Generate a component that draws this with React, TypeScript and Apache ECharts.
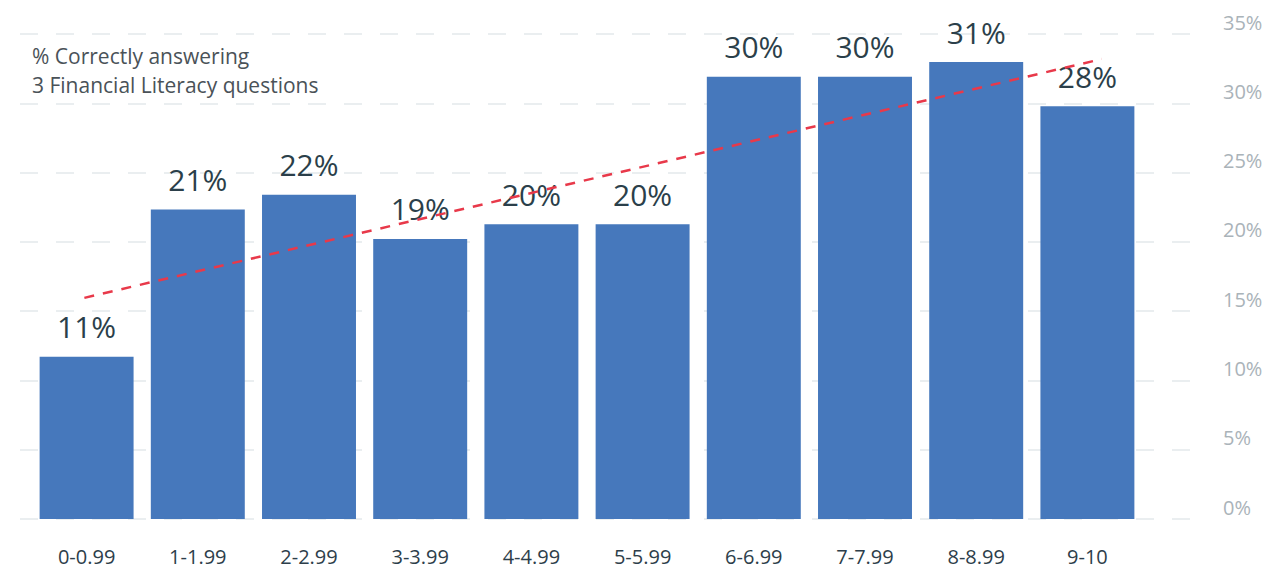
import React, { useEffect, useRef } from "react";
import * as echarts from "echarts";

const categories = ["0-0.99", "1-1.99", "2-2.99", "3-3.99", "4-4.99", "5-5.99", "6-6.99", "7-7.99", "8-8.99", "9-10"];
const correctPct = [11, 21, 22, 19, 20, 20, 30, 30, 31, 28];
const trendPoints: [number, number][] = [[-0.02, 15.0], [9.13, 31.2]];
const axisTicks = [0, 5, 10, 15, 20, 25, 30, 35];
const titleLines = ["% Correctly answering", "3 Financial Literacy questions"];

const FONT = "'Open Sans', sans-serif";

export default function App() {
  const ref = useRef<HTMLDivElement>(null);
  useEffect(() => {
    if (!ref.current) return;
    const chart = echarts.init(ref.current, null, { renderer: "svg" });
    const barMax = 32.9;
    chart.setOption({
      animation: false,
      backgroundColor: "#ffffff",
      textStyle: { fontFamily: FONT },
      grid: [
        { left: 31, right: 129, top: 34, bottom: 50 },
        { left: 20, right: 64, top: 34, bottom: 50 },
      ],
      xAxis: [
        {
          type: "category",
          gridIndex: 0,
          data: categories,
          axisLine: { show: false },
          axisTick: { show: false },
          axisLabel: { color: "#2d3e4a", fontSize: 20, margin: 27, fontFamily: FONT },
        },
        { type: "value", gridIndex: 0, min: -0.5, max: 9.5, show: false },
        { type: "value", gridIndex: 1, min: 0, max: 1, show: false },
      ],
      yAxis: [
        { type: "value", gridIndex: 0, min: 0, max: barMax, show: false, splitLine: { show: false } },
        {
          type: "value",
          gridIndex: 1,
          position: "right",
          min: axisTicks[0],
          max: axisTicks[axisTicks.length - 1],
          interval: 5,
          axisLine: { show: false },
          axisTick: { show: false },
          splitLine: { show: true, lineStyle: { color: "#e4e9eb", width: 1.5, type: [18, 18] } },
          axisLabel: {
            color: "#aab3b9",
            fontSize: 20,
            margin: 15,
            align: "left",
            verticalAlign: "bottom",
            lineHeight: 24,
            fontFamily: FONT,
            formatter: (v: number) => v + "%",
          },
        },
      ],
      graphic: titleLines.map((t, i) => ({
        type: "text",
        left: 32,
        top: 45 + i * 29,
        z: 10,
        style: { text: t, fill: "#4a5258", font: `21px ${FONT}` },
      })),
      series: [
        {
          type: "bar",
          xAxisIndex: 0,
          yAxisIndex: 0,
          data: correctPct,
          barCategoryGap: "15.5%",
          itemStyle: { color: "#4678bc" },
          label: {
            show: true,
            position: "top",
            distance: 15,
            color: "#2b3f4a",
            fontSize: 30,
            fontFamily: FONT,
            formatter: (p: any) => p.value + "%",
          },
          z: 2,
        },
        {
          type: "line",
          xAxisIndex: 1,
          yAxisIndex: 0,
          data: trendPoints,
          symbol: "none",
          lineStyle: { color: "#e8394a", width: 2.5, type: [10, 9] },
          z: 3,
        },
      ],
    });
    return () => chart.dispose();
  }, []);
  return (
    <div
      ref={ref}
      style={{ position: "fixed", left: 0, top: 0, width: 1272, height: 569, background: "#fff" }}
    />
  );
}
